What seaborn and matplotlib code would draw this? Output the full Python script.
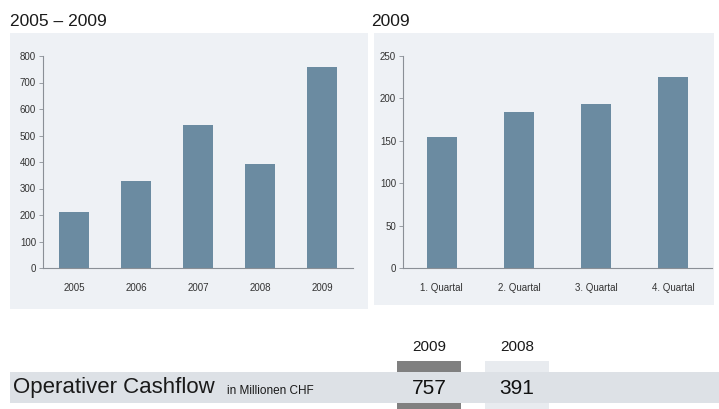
import matplotlib
matplotlib.use("Agg")
import matplotlib.pyplot as plt
from matplotlib.patches import Rectangle
import seaborn as sns

# data
years = ["2005", "2006", "2007", "2008", "2009"]
cashflow_years = [210, 330, 540, 391, 757]
quarters = ["1. Quartal", "2. Quartal", "3. Quartal", "4. Quartal"]
cashflow_quarters = [155, 184, 193, 225]
compare_years = ["2009", "2008"]
compare_values = [cashflow_years[years.index(y)] for y in compare_years]

sns.set_theme(style="white")
plt.rcParams["font.family"] = ["Liberation Sans Narrow", "Liberation Sans", "DejaVu Sans"]

bar_color = "#6b8ba1"
panel_color = "#eef1f5"
band_color = "#dde1e6"

W, H = 719, 409
fig = plt.figure(figsize=(W / 100, H / 100), dpi=100)
fig.patch.set_facecolor("white")

# background layer in pixel coordinates
bg = fig.add_axes([0, 0, 1, 1], zorder=0)
bg.set_xlim(0, W)
bg.set_ylim(H, 0)
bg.axis("off")
bg.add_patch(Rectangle((10, 33), 358, 276, color=panel_color, lw=0))
bg.add_patch(Rectangle((374, 33), 340, 272, color=panel_color, lw=0))
bg.text(10, 21, "2005 \u2013 2009", fontsize=12.5, va="center", color="#1a1a1a")
bg.text(371, 21, "2009", fontsize=12.5, va="center", color="#1a1a1a")

# comparison table
col_x = [397, 485]
col_colors = ["#808080", "#e8ebef"]
for x, c, lab in zip(col_x, col_colors, compare_years):
    bg.add_patch(Rectangle((x, 361), 64, 48, color=c, lw=0))
    bg.text(x + 32, 347, lab, fontsize=11, ha="center", va="center", color="#1a1a1a")
bg.add_patch(Rectangle((10, 372), W - 10, 31, color=band_color, lw=0, zorder=2))
for x, v in zip(col_x, compare_values):
    bg.text(x + 32, 388, str(v), fontsize=15, ha="center", va="center", color="#111111", zorder=3)
bg.text(13, 388, "Operativer Cashflow", fontsize=16, va="center", color="#1a1a1a", zorder=3)
bg.text(227, 391, "in Millionen CHF", fontsize=8.5, va="center", color="#1a1a1a", zorder=3)


def style_axes(ax, ymax, step):
    ax.set_facecolor("none")
    ax.set_ylim(0, ymax)
    ax.set_yticks(range(0, ymax + 1, step))
    ax.set_xlabel("")
    ax.set_ylabel("")
    for s in ["top", "right"]:
        ax.spines[s].set_visible(False)
    for s in ["left", "bottom"]:
        ax.spines[s].set_color("#8a8f96")
        ax.spines[s].set_linewidth(0.8)
    ax.tick_params(axis="y", left=True, length=3, width=0.6, color="#8a8f96",
                   labelsize=7, labelcolor="#333333", pad=2)
    ax.tick_params(axis="x", bottom=False, labelsize=7, labelcolor="#333333", pad=5)


ax1 = fig.add_axes([43 / W, 1 - 268 / H, 310 / W, 212 / H], zorder=1)
sns.barplot(x=years, y=cashflow_years, color=bar_color, width=0.48,
            saturation=1, linewidth=0, edgecolor="none", ax=ax1)
ax1.set_xlim(-0.5, len(years) - 0.5)
style_axes(ax1, 800, 100)

ax2 = fig.add_axes([403 / W, 1 - 268 / H, 309 / W, 212 / H], zorder=1)
sns.barplot(x=quarters, y=cashflow_quarters, color=bar_color, width=0.39,
            saturation=1, linewidth=0, edgecolor="none", ax=ax2)
ax2.set_xlim(-0.5, len(quarters) - 0.5)
style_axes(ax2, 250, 50)

fig.savefig("out.png", dpi=100)
